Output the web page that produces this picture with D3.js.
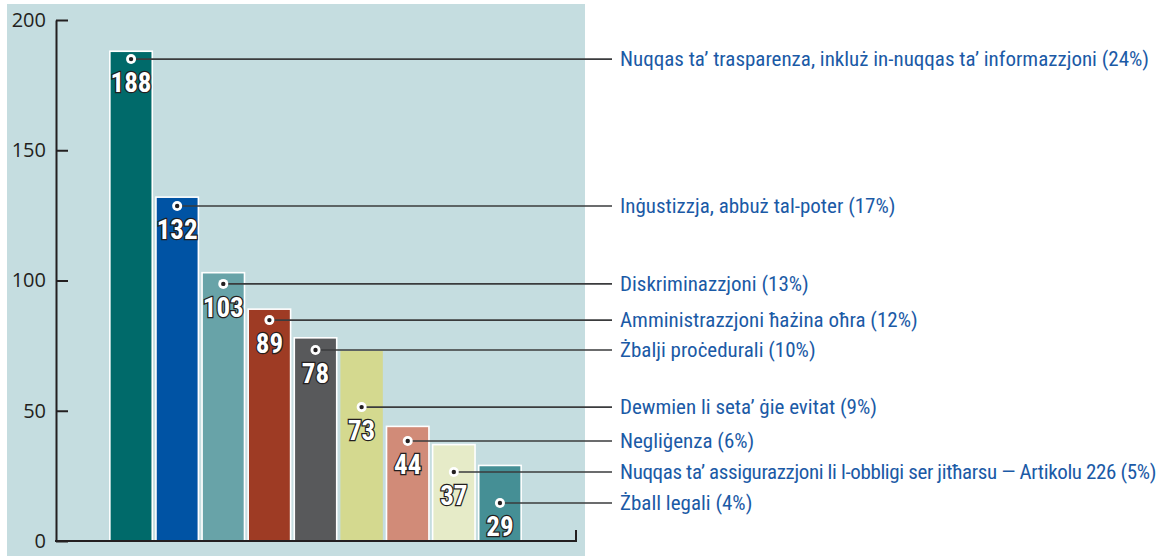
<!DOCTYPE html>
<html>
<head>
<meta charset="utf-8">
<script src="https://cdn.jsdelivr.net/npm/d3@7"></script>
<style>
  body { margin: 0; background: #fff; }
  svg { display: block; }
</style>
</head>
<body>
<div id="chart"></div>
<script>
// data
const categories = [
  'Nuqqas ta’ trasparenza, inkluż in-nuqqas ta’ informazzjoni (24%)',
  'Inġustizzja, abbuż tal-poter (17%)',
  'Diskriminazzjoni (13%)',
  'Amministrazzjoni ħażina oħra (12%)',
  'Żbalji proċedurali (10%)',
  'Dewmien li seta’ ġie evitat (9%)',
  'Negliġenza (6%)',
  'Nuqqas ta’ assigurazzjoni li l-obbligi ser jitħarsu — Artikolu 226 (5%)',
  'Żball legali (4%)'
]
const values = [188, 132, 103, 89, 78, 73, 44, 37, 29]
const yTicks = [0, 50, 100, 150, 200]
// where each leader line sits, in axis units
const labelAt = [185, 128.6, 98.7, 84.8, 73.3, 51.4, 38.4, 26.5, 14.6]
const colors = ['#006a6a', '#0053a4', '#68a3a8', '#9e3b24', '#58595b',
  '#d4d98f', '#d18b78', '#e6ebc8', '#458f95']

const W = 1169
const H = 556

const svg = d3.select('#chart').append('svg')
  .attr('width', W)
  .attr('height', H)

// light blue panel
svg.append('rect')
  .attr('x', 7).attr('y', 4)
  .attr('width', 578).attr('height', H - 4)
  .attr('fill', '#c5dde0')

const x = d3.scaleBand()
  .domain(categories)
  .range([108, 523])
  .paddingInner(0.08)
  .paddingOuter(0.04)

const y = d3.scaleLinear()
  .domain([0, 200])
  .range([541, 20])

const data = categories.map((c, i) => ({ cat: c, value: values[i], at: labelAt[i], color: colors[i], i }))

// bars
svg.selectAll('.bar')
  .data(data)
  .enter().append('rect')
  .attr('class', 'bar')
  .attr('x', d => x(d.cat))
  .attr('y', d => y(d.value))
  .attr('width', x.bandwidth())
  .attr('height', d => y(0) - y(d.value))
  .attr('fill', d => d.color)
  .attr('stroke', d => d.i === 5 ? 'none' : '#fff')
  .attr('stroke-width', 1.6)

// y axis
const yAxis = svg.append('g')
  .attr('transform', 'translate(56,0)')
  .call(d3.axisLeft(y).tickValues(yTicks).tickSizeInner(-12).tickSizeOuter(0).tickPadding(10))
yAxis.select('.domain').attr('stroke', '#231f20').attr('stroke-width', 2)
yAxis.selectAll('.tick line').attr('stroke', '#231f20').attr('stroke-width', 2)
yAxis.selectAll('.tick text')
  .attr('fill', '#231f20')
  .style('font-family', '"Open Sans", "Noto Sans", sans-serif')
  .style('font-size', '20px')

// x axis line with the small end tick
svg.append('path')
  .attr('d', d3.line()([[55, y(0)], [576, y(0)], [576, y(0) - 11]]))
  .attr('fill', 'none')
  .attr('stroke', '#231f20')
  .attr('stroke-width', 2)

// leader lines
svg.selectAll('.leader')
  .data(data)
  .enter().append('line')
  .attr('class', 'leader')
  .attr('x1', d => x(d.cat) + x.bandwidth() / 2)
  .attr('x2', 612)
  .attr('y1', d => y(d.at))
  .attr('y2', d => y(d.at))
  .attr('stroke', '#3a3b3d')
  .attr('stroke-width', 1.6)

// dots
const dots = svg.selectAll('.dot')
  .data(data)
  .enter().append('g')
  .attr('class', 'dot')
  .attr('transform', d => 'translate(' + (x(d.cat) + x.bandwidth() / 2) + ',' + y(d.at) + ')')
dots.append('circle').attr('r', 5).attr('fill', '#fff')
dots.append('circle').attr('r', 2.2).attr('fill', '#231f20')

// value labels
svg.selectAll('.val')
  .data(data)
  .enter().append('text')
  .attr('class', 'val')
  .attr('x', d => x(d.cat) + x.bandwidth() / 2)
  .attr('y', d => y(d.at) + 33)
  .attr('text-anchor', 'middle')
  .attr('fill', '#fff')
  .attr('stroke', '#231f20')
  .attr('stroke-width', 2.5)
  .attr('paint-order', 'stroke')
  .style('font-family', '"Roboto Condensed", "Roboto", sans-serif')
  .style('font-weight', 'bold')
  .style('font-size', '27px')
  .text(d => d.value)

// category labels
const maxLabel = 536
svg.selectAll('.lab')
  .data(data)
  .enter().append('text')
  .attr('class', 'lab')
  .attr('x', 620)
  .attr('y', d => y(d.at))
  .attr('dy', '0.35em')
  .attr('fill', '#1b5aa6')
  .style('font-family', '"Roboto Condensed", "Roboto", sans-serif')
  .style('font-size', '21px')
  .text(d => d.cat)
  .each(function (d) {
    // tighten the long one so it stays inside the page
    const len = this.getComputedTextLength()
    if (len > maxLabel) {
      d3.select(this).style('letter-spacing', ((maxLabel - len) / d.cat.length) + 'px')
    }
  })
</script>
</body>
</html>
